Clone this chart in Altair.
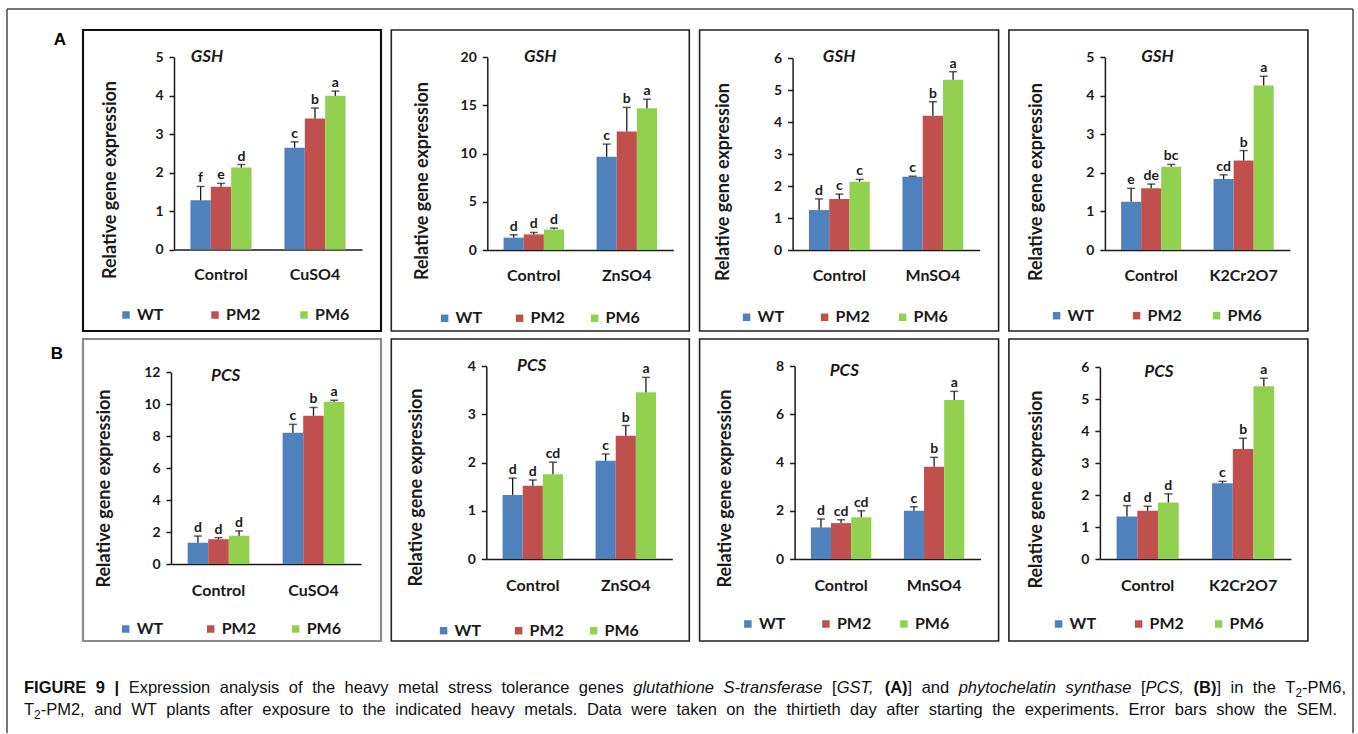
import altair as alt
import pandas as pd

# ---------------- data ----------------
LINES = ["WT", "PM2", "PM6"]
LINE_COLORS = ["#4F81BD", "#C0504D", "#92D050"]
CONTROL = "Control"
TREATMENTS = ["CuSO4", "ZnSO4", "MnSO4", "K2Cr2O7"]
Y_TITLE = "Relative gene expression"

GENES = ["GSH", "PCS"]
# order inside each panel: Control WT, PM2, PM6, Treatment WT, PM2, PM6
GSH_YMAX = [5, 20, 6, 5]
GSH_YSTEP = [1, 5, 1, 1]
GSH_MEAN = [
    [1.28, 1.63, 2.13, 2.65, 3.41, 4.00],
    [1.28, 1.62, 2.12, 9.69, 12.30, 14.70],
    [1.25, 1.60, 2.14, 2.29, 4.20, 5.33],
    [1.25, 1.60, 2.16, 1.84, 2.32, 4.27],
]
GSH_SEM = [
    [0.36, 0.09, 0.08, 0.15, 0.27, 0.12],
    [0.30, 0.20, 0.15, 1.30, 2.50, 0.95],
    [0.35, 0.15, 0.07, 0.02, 0.44, 0.25],
    [0.35, 0.11, 0.06, 0.11, 0.26, 0.24],
]
GSH_LETTERS = [
    ["f", "e", "d", "c", "b", "a"],
    ["d", "d", "d", "c", "b", "a"],
    ["d", "c", "c", "c", "b", "a"],
    ["e", "de", "bc", "cd", "b", "a"],
]

PCS_YMAX = [12, 4, 8, 6]
PCS_YSTEP = [2, 1, 2, 1]
PCS_MEAN = [
    [1.33, 1.55, 1.77, 8.22, 9.28, 10.15],
    [1.33, 1.52, 1.76, 2.04, 2.56, 3.46],
    [1.31, 1.49, 1.73, 2.00, 3.83, 6.60],
    [1.33, 1.51, 1.77, 2.37, 3.44, 5.41],
]
PCS_SEM = [
    [0.42, 0.10, 0.30, 0.52, 0.52, 0.10],
    [0.35, 0.12, 0.25, 0.14, 0.21, 0.31],
    [0.35, 0.14, 0.27, 0.17, 0.39, 0.36],
    [0.34, 0.14, 0.27, 0.06, 0.34, 0.25],
]
PCS_LETTERS = [
    ["d", "d", "d", "c", "b", "a"],
    ["d", "d", "cd", "c", "b", "a"],
    ["d", "cd", "cd", "c", "b", "a"],
    ["d", "d", "d", "c", "b", "a"],
]

PANEL_LABELS = ["A", "B"]
CAPTION_LINE1 = [
    ("FIGURE 9 |", "b"),
    (" Expression analysis of the heavy metal stress tolerance genes ", "r"),
    ("glutathione S-transferase", "i"),
    (" [", "r"), ("GST,", "i"), (" ", "r"), ("(A)", "b"), ("] and ", "r"),
    ("phytochelatin synthase", "i"),
    (" [", "r"), ("PCS,", "i"), (" ", "r"), ("(B)", "b"), ("] in the T", "r"),
    ("2", "s"), ("-PM6,", "r"),
]
CAPTION_LINE2 = [
    ("T", "r"), ("2", "s"),
    ("-PM2, and WT plants after exposure to the indicated heavy metals. Data were "
     "taken on the thirtieth day after starting the experiments. Error bars show the SEM.", "r"),
]

# ---------------- layout / style ----------------
INK = "#1a1a1a"
FONT = "Lato"
CAP_FONT = "Liberation Sans"
COL_W = [298, 298, 299, 299]
ROW_H = [301, 302]
ROW_GAP = 8
COL_GAP = 10.3
ORIGIN = (84, 31)
CAP_ORIGIN_Y = ORIGIN[1] + ROW_H[0] + ROW_GAP + ROW_H[1] + ROW_GAP  # 650

GEO = [
    [
        dict(ax=91, xe=279, y0=219.5, yt=27.3, tx=27.7, ty=149.5, gx=124, gy=27, lx=38, ly=285, sp=87, st="#111", sw=2.2),
        dict(ax=96, xe=282, y0=220, yt=27.3, tx=30.7, ty=150.5, gx=149, gy=27, lx=48.3, ly=288.3, sp=73, st="#222", sw=1.6),
        dict(ax=93, xe=280, y0=220, yt=28.3, tx=24.3, ty=151.5, gx=139.5, gy=26.7, lx=42, ly=287.3, sp=76, st="#222", sw=1.6),
        dict(ax=96, xe=281, y0=220, yt=27.3, tx=27.7, ty=151.5, gx=148.5, gy=27.3, lx=42.7, ly=285.7, sp=78, st="#222", sw=1.6),
    ],
    [
        dict(ax=88, xe=278, y0=225, yt=33.3, tx=21.7, ty=149, gx=142.7, gy=36.7, lx=37.7, ly=290, sp=83, st="#8a8a8a", sw=2.2),
        dict(ax=95, xe=281, y0=220, yt=27.3, tx=25.3, ty=148, gx=140.3, gy=26.7, lx=47.3, ly=291.7, sp=73, st="#222", sw=1.6),
        dict(ax=95, xe=281, y0=220, yt=27.3, tx=25.6, ty=149, gx=144.7, gy=31.7, lx=43.3, ly=285, sp=76, st="#222", sw=1.6),
        dict(ax=91, xe=282, y0=220, yt=28.3, tx=27.7, ty=150, gx=150, gy=33, lx=44.7, ly=285, sp=78, st="#222", sw=1.6),
    ],
]


def panel(gene, treat, means, sems, letters, ymax, ystep, g, W, H):
    df = pd.DataFrame({
        "cond": [CONTROL] * 3 + [treat] * 3,
        "line": LINES * 2,
        "mean": means,
        "sem": sems,
        "letter": letters,
    })
    df["top"] = df["mean"] + df["sem"]

    xaxis = alt.Axis(title=None, orient="bottom", offset=g["y0"] - H, labelAngle=0,
                     ticks=False, tickSize=0, domainColor=INK, domainWidth=1.5,
                     labelFont=FONT, labelFontWeight="bold", labelFontSize=16,
                     labelColor=INK, labelPadding=17 if H == 301 else 18)
    x = alt.X("cond:N", sort=[CONTROL, treat],
              scale=alt.Scale(range=[g["ax"], g["xe"]], paddingInner=0.35, paddingOuter=0.175),
              axis=xaxis)
    xo = alt.XOffset("line:N", sort=LINES, scale=alt.Scale(paddingInner=0, paddingOuter=0))
    ticks = list(range(0, ymax + 1, ystep))
    yaxis = alt.Axis(values=ticks, format="d", offset=-g["ax"], orient="left", grid=False,
                     tickSize=5, tickWidth=1.5, tickColor=INK, domainColor=INK, domainWidth=1.5,
                     labelFont=FONT, labelFontWeight="bold", labelFontSize=14, labelColor=INK,
                     labelPadding=6, labelOverlap=False,
                     title=Y_TITLE, titleFont=FONT, titleFontWeight="bold", titleFontSize=18,
                     titleColor=INK, titleAngle=270, titleAlign="center", titleBaseline="middle",
                     titleX=g["tx"] - g["ax"], titleY=g["ty"])
    ysc = alt.Scale(domain=[0, ymax], range=[g["y0"], g["yt"]], nice=False, zero=True)

    entry_w = 52
    legend = alt.Legend(orient="none", legendX=g["lx"] - 3, legendY=g["ly"] - 8, direction="horizontal",
                        symbolType="square", symbolSize=56, symbolStrokeWidth=0,
                        labelFont=FONT, labelFontWeight="bold", labelFontSize=16, labelColor=INK,
                        labelOffset=3, columnPadding=g["sp"] - entry_w, gridAlign="all", padding=0)

    base = alt.Chart(df)
    bars = base.mark_bar().encode(
        x=x, xOffset=xo,
        y=alt.Y("mean:Q", scale=ysc, axis=yaxis),
        color=alt.Color("line:N", sort=LINES, scale=alt.Scale(domain=LINES, range=LINE_COLORS),
                        title=None, legend=legend),
    )
    err = base.mark_rule(color=INK, strokeWidth=1.3).encode(
        x=x, xOffset=xo, y=alt.Y("mean:Q", scale=ysc, axis=yaxis), y2="top:Q")
    cap = base.mark_tick(orient="horizontal", size=8, thickness=1.5, color=INK).encode(
        x=x, xOffset=xo, y=alt.Y("top:Q", scale=ysc, axis=yaxis))
    lab = base.mark_text(font=FONT, fontWeight="bold", fontSize=14, color=INK,
                         baseline="alphabetic", dy=-4).encode(
        x=x, xOffset=xo, y=alt.Y("top:Q", scale=ysc, axis=yaxis), text="letter:N")
    title = alt.Chart(pd.DataFrame({"gene": [gene]})).mark_text(
        font=FONT, fontStyle="italic", fontWeight="bold", fontSize=17, color=INK,
        align="center", baseline="middle").encode(
        text="gene:N", x=alt.value(g["gx"]), y=alt.value(g["gy"]))

    return alt.layer(bars, err, cap, lab, title).properties(
        width=W, height=H,
        view=alt.ViewBackground(stroke=g["st"], strokeWidth=g["sw"], fill="white"))


panels = []
data_rows = [
    (GENES[0], GSH_MEAN, GSH_SEM, GSH_LETTERS, GSH_YMAX, GSH_YSTEP),
    (GENES[1], PCS_MEAN, PCS_SEM, PCS_LETTERS, PCS_YMAX, PCS_YSTEP),
]
for r, (gene, M, S, L, YM, YS) in enumerate(data_rows):
    for c in range(4):
        panels.append(panel(gene, TREATMENTS[c], M[c], S[c], L[c], YM[c], YS[c],
                            GEO[r][c], COL_W[c], ROW_H[r]))

# ---------------- caption (decoration) ----------------
AR = {' ': 278, '(': 333, ')': 333, ',': 278, '-': 333, '.': 278, '[': 278, ']': 278, '|': 260,
      'A': 667, 'B': 667, 'C': 722, 'D': 722, 'E': 667, 'F': 611, 'G': 778, 'H': 722, 'I': 278,
      'J': 500, 'K': 667, 'L': 556, 'M': 833, 'N': 722, 'O': 778, 'P': 667, 'Q': 778, 'R': 722,
      'S': 667, 'T': 611, 'U': 722, 'V': 667, 'W': 944, 'X': 667, 'Y': 667, 'Z': 611,
      'a': 556, 'b': 556, 'c': 500, 'd': 556, 'e': 556, 'f': 278, 'g': 556, 'h': 556, 'i': 222,
      'j': 222, 'k': 500, 'l': 222, 'm': 833, 'n': 556, 'o': 556, 'p': 556, 'q': 556, 'r': 333,
      's': 500, 't': 278, 'u': 556, 'v': 500, 'w': 722, 'x': 500, 'y': 500, 'z': 500}
AB = dict(AR)
AB.update({'|': 280, '[': 333, ']': 333, 'A': 722, 'B': 722, 'R': 722, 'U': 722, 'G': 778})

CAP_FS = 16.5


def run_width(text, style):
    tbl = AB if style == "b" else AR
    size = CAP_FS * (0.72 if style == "s" else 1.0)
    return sum(tbl.get(ch, 556) for ch in text) / 1000.0 * size


def layout_line(runs, x0, x1, y):
    items = []
    for text, style in runs:
        buf = ""
        for ch in text:
            if ch == " ":
                if buf:
                    items.append((buf, style))
                    buf = ""
                items.append((" ", style))
            else:
                buf += ch
        if buf:
            items.append((buf, style))
    natural = sum(run_width(t, s) for t, s in items)
    nsp = sum(1 for t, s in items if t == " ")
    extra = (x1 - x0 - natural) / nsp
    xx = x0
    out = []
    for t, s in items:
        w = run_width(t, s)
        if t == " ":
            xx += w + extra
        else:
            out.append({"t": t, "x": xx, "y": y + (4 if s == "s" else 0), "s": s})
            xx += w
    return out


ox, oy = ORIGIN[0], CAP_ORIGIN_Y
pieces = layout_line(CAPTION_LINE1, 25 - ox, 1347 - ox, 693.5 - oy) + \
    layout_line(CAPTION_LINE2, 25 - ox, 1338 - ox, 715.5 - oy)
pdf = pd.DataFrame(pieces)

one = pd.DataFrame({"k": [0]})
FRAME = "#4a4a4a"
frame_l = alt.Chart(one).mark_rule(color=FRAME, strokeWidth=1.5).encode(
    x=alt.value(8 - ox), y=alt.value(10 - oy), y2=alt.value(734 - oy))
frame_r = alt.Chart(one).mark_rule(color=FRAME, strokeWidth=1.5).encode(
    x=alt.value(1354 - ox), y=alt.value(10 - oy), y2=alt.value(734 - oy))
frame_t = alt.Chart(one).mark_rule(color=FRAME, strokeWidth=1.5).encode(
    x=alt.value(8 - ox), x2=alt.value(1354 - ox), y=alt.value(10 - oy))

lab_a = alt.Chart(pd.DataFrame({"t": [PANEL_LABELS[0]]})).mark_text(
    font=CAP_FONT, fontWeight="bold", fontSize=17, color="#000", align="center",
    baseline="alphabetic").encode(text="t:N", x=alt.value(61 - ox), y=alt.value(45.6 - oy))
lab_b = alt.Chart(pd.DataFrame({"t": [PANEL_LABELS[1]]})).mark_text(
    font=CAP_FONT, fontWeight="bold", fontSize=17, color="#000", align="center",
    baseline="alphabetic").encode(text="t:N", x=alt.value(58 - ox), y=alt.value(360 - oy))

cap_layers = [frame_l, frame_r, frame_t, lab_a, lab_b]
style_props = {
    "r": dict(fontSize=CAP_FS),
    "b": dict(fontSize=CAP_FS, fontWeight="bold"),
    "i": dict(fontSize=CAP_FS, fontStyle="italic"),
    "s": dict(fontSize=CAP_FS * 0.72),
}
for s, props in style_props.items():
    sub = pdf[pdf["s"] == s]
    if len(sub):
        cap_layers.append(alt.Chart(sub).mark_text(
            font=CAP_FONT, color="#111", align="left", baseline="alphabetic", **props).encode(
            text="t:N", x=alt.X("x:Q", scale=None), y=alt.Y("y:Q", scale=None)))

caption = alt.layer(*cap_layers).properties(
    width=1, height=1, view=alt.ViewBackground(strokeWidth=0, fill="transparent"))

chart = alt.concat(*panels, caption, columns=4,
                   spacing={"row": ROW_GAP, "column": COL_GAP}, bounds="flush") \
    .resolve_scale(x="independent", y="independent", xOffset="independent", color="independent") \
    .resolve_legend(color="independent") \
    .properties(padding={"left": 6, "top": 8, "right": 0, "bottom": 0}) \
    .configure(background="white") \
    .configure_view(strokeWidth=0)

chart.save("out.html", embed_options={"renderer": "svg", "actions": False})
